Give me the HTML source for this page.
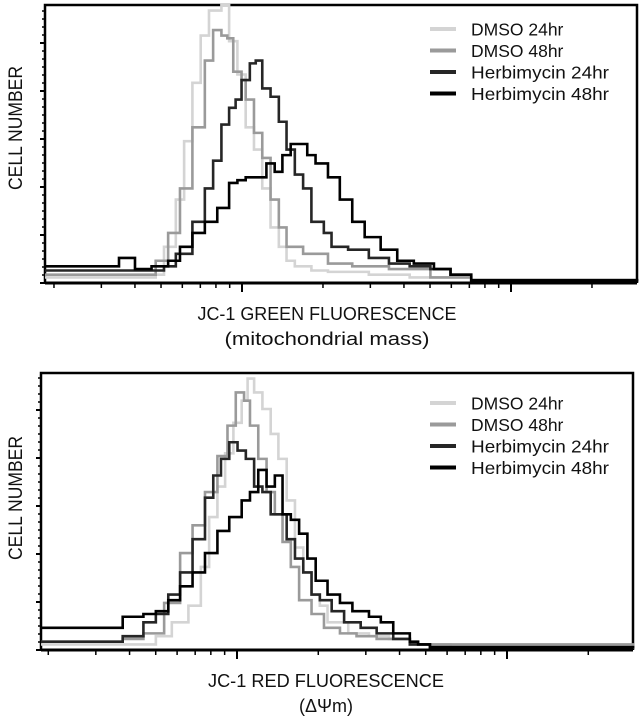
<!DOCTYPE html>
<html><head><meta charset="utf-8"><style>
html,body{margin:0;padding:0;background:#fff;}
svg{display:block;font-family:"Liberation Sans",sans-serif;}
</style></head><body>
<svg id="fig" width="642" height="720" viewBox="0 0 642 720" xmlns="http://www.w3.org/2000/svg"></svg>
<script>
// ---- data (channel 0..1000 across plot width; value 0..100 of plot height) ----
const seriesNames = ["DMSO 24hr","DMSO 48hr","Herbimycin 24hr","Herbimycin 48hr"];
const seriesColors = ["#d4d4d4","#9a9a9a","#262626","#000000"];

const greenD24x=[0,187,201,221,235,249,263,277,298,311,325,339,353,367,381,395,408,422,450,478,547,616,720,1000];
const greenD24y=[2,3,13,30,51,72,89,98,100,87,75,56,48,34,20,13,8,6,4.5,4,3,2,0.5,0.5];
const greenD48x=[0,187,208,228,249,270,284,298,308,318,332,339,353,367,381,395,408,436,478,519,581,651,720,1000];
const greenD48y=[3,8,18,34,56,80,91,89,88,76,73,66,54,45,30,20,13,10.5,7,6,5,2,0.5,0.5];
const greenH24x=[0,201,221,249,270,284,298,311,322,332,346,356,367,381,395,408,422,436,450,471,484,512,547,581,616,651,685,720,1000];
const greenH24y=[4.5,6,10.5,22,34,44,57,63,66,73,79,80,70,67,58,48,39,34,22,18,13,12,9,7,6,5,3,1,0.5];
const greenH48x=[0,62,125,152,180,208,228,249,270,291,311,325,339,360,374,388,401,415,429,443,457,478,498,519,540,567,595,623,657,685,720,1000];
const greenH48y=[6,6,9,5,6,8,13,18,22,27,36,37,38,38,43,40,46,50,50,46,43,38,30,22,16.5,12,8,7,5,3,1,0.5];

const redD24x=[0,138,194,221,249,270,284,298,311,325,339,349,360,374,388,401,415,429,443,457,471,484,519,554,588,623,692,796,1000];
const redD24y=[2,2,5,10,16,30,48,59,71,82,90,98,93,87,78,69,54,37,28,20,16,10,6,5,4,2,1,1,0.5];
const redD48x=[0,138,173,208,235,256,277,298,315,329,343,353,367,381,395,408,422,436,457,478,505,533,567,623,1000];
const redD48y=[3,4,6,17,35,45,57,70,81,93,90,81,69,57,49,39,30,18,13,8,6,5,4,2,0.5];
const redH24x=[0,138,173,194,215,235,256,277,291,304,318,332,346,360,374,388,401,415,429,443,457,471,491,512,540,567,595,623,657,1000];
const redH24y=[3,5,10,13,20,28,40,55,63,69,75,72,69,59,57,49,49,40,33,28,20,18,14,10,8,6,4,2,1,0.5];
const redH48x=[0,104,138,173,194,215,235,256,277,298,318,339,353,367,381,395,408,422,436,450,464,484,505,526,554,574,595,623,637,657,1000];
const redH48y=[8,8,12,13,14,18,23,28,35,43,48,54,57,65,59,63,49,47,42,33,25,20,17,14,12,10,6,3,2,1,0.5];

const NS="http://www.w3.org/2000/svg";
const svg=document.getElementById('fig');
function mk(tag,attrs,parent){const e=document.createElementNS(NS,tag);for(const k in attrs)e.setAttribute(k,attrs[k]);(parent||svg).appendChild(e);return e;}

function panel(p){
  const g=mk('g',{});
  
  
  const X=c=>p.x0+(c/1000)*(p.x1-p.x0);
  const Y=v=>p.yb-(v/100)*(p.yb-p.yt);
  const fr=mk('path',{d:`M${p.x0},${p.yb} L${p.x0},${p.yt} L${p.x1},${p.yt} L${p.x1},${p.yb}`,fill:'none',stroke:'#000','stroke-width':2.5},g);
  
  
  for(let i=0;i<=34;i++){const y=p.yb-i*8;if(y<p.yt)break;const big=i%6===0;
    const t=mk('line',{x1:p.x0-(big?5:3),x2:p.x0,y1:y,y2:y,stroke:'#000','stroke-width':big?2:1.5},g);
    
    }
  for(let d=-1;d<=1;d++){for(let k=1;k<=9;k++){const x=p.major+p.dec*(d+Math.log10(k));
    if(x<p.x0+2||x>p.x1-2)continue;const big=k===1;
    const t=mk('line',{x1:x,x2:x,y1:p.yb,y2:p.yb+(big?9:5),stroke:'#000','stroke-width':big?2:1.5},g);
    
    }}
  p.series.forEach((s,i)=>{let d='';for(let j=0;j<s[0].length;j++){const x=X(s[0][j]),y=Y(s[1][j]);
      d+=(j===0?`M${x},${y}`:` H${x} V${y}`);}
    const l=mk('path',{d,fill:'none',stroke:seriesColors[i],'stroke-width':2.6,'stroke-linejoin':'miter'},g);
    
    });
  const b=mk('line',{x1:p.x0,x2:p.x1,y1:p.yb,y2:p.yb,stroke:'#000','stroke-width':3},g);
  
  
  seriesNames.forEach((n,i)=>{const y=p.legY+i*21.5;
    const ln=mk('line',{x1:430,x2:456,y1:y,y2:y,stroke:seriesColors[i],'stroke-width':4},g);
    
    
    const t=mk('text',{x:471,y:y+6.5,'font-size':17.5,fill:'#111','lengthAdjust':'spacingAndGlyphs'},g);t.textContent=n;
    if(n.length>12) t.setAttribute('textLength',138);
    
    });
  const yt=mk('text',{x:0,y:0,'font-size':19,'text-anchor':'middle',transform:`translate(22,${p.ylabY}) rotate(-90)`,'textLength':124,'lengthAdjust':'spacingAndGlyphs',fill:'#111'},g);
  yt.textContent='CELL NUMBER';
  
  
  const xt=mk('text',{x:p.xtX,y:p.xtY,'font-size':18,'text-anchor':'middle',fill:'#111','textLength':p.xtW,'lengthAdjust':'spacingAndGlyphs'},g);
  xt.textContent=p.xt;
  
  
  const xs=mk('text',{x:p.xsX,y:p.xtY+25,'font-size':18,'text-anchor':'middle',fill:'#111','xml:space':'preserve'},g);
  if(p.xsW){xs.setAttribute('textLength',p.xsW);xs.setAttribute('lengthAdjust','spacingAndGlyphs');}
  xs.textContent=p.xs;
  
  
}

panel({name:'green-fluorescence-chart',x0:45,x1:637,yt:5,yb:283,major:242,dec:269,legY:29,ylabY:128,
  xt:'JC-1  GREEN  FLUORESCENCE',xs:'(mitochondrial    mass)',xtX:327,xsX:327,xsW:205,xtY:320,xtW:259,
  series:[[greenD24x,greenD24y],[greenD48x,greenD48y],[greenH24x,greenH24y],[greenH48x,greenH48y]]});
panel({name:'red-fluorescence-chart',x0:41,x1:633,yt:373,yb:650,major:237,dec:270,legY:403,ylabY:498,
  xt:'JC-1  RED  FLUORESCENCE',xs:'(\u0394\u03A8m)',xtX:326,xsX:326,xsW:0,xtY:687,xtW:236,
  series:[[redD24x,redD24y],[redD48x,redD48y],[redH24x,redH24y],[redH48x,redH48y]]});
</script>
</body></html>
